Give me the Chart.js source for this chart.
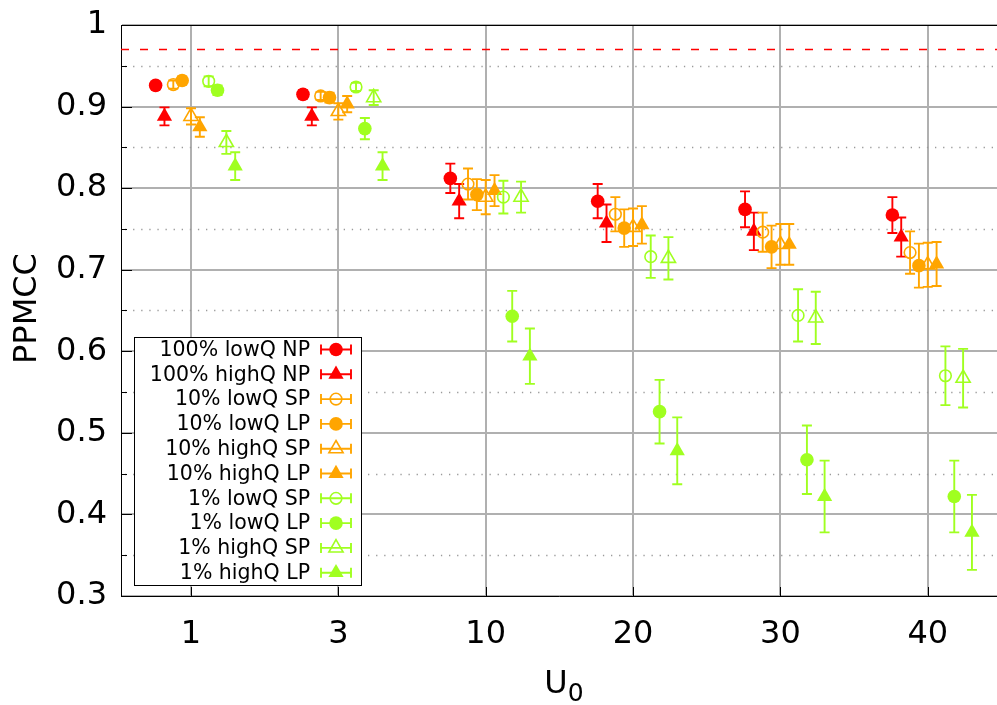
<!DOCTYPE html>
<html>
<head>
<meta charset="utf-8">
<title>PPMCC vs U0</title>
<script src="https://cdn.jsdelivr.net/npm/chart.js@4.4.1/dist/chart.umd.min.js"></script>
<style>
  html, body { margin: 0; padding: 0; background: #fff; }
  #wrap { width: 997px; height: 705px; }
</style>
</head>
<body>
<div id="wrap"><canvas id="ppmccChart" width="997" height="705"></canvas></div>
<script>
// ========================================
// DATA
// ========================================
const U0_LABELS = ["1", "3", "10", "20", "30", "40"];
const Y_TICKS = [0.3, 0.4, 0.5, 0.6, 0.7, 0.8, 0.9, 1.0];
const Y_MINOR_TICKS = [0.35, 0.45, 0.55, 0.65, 0.75, 0.85, 0.95];
const REF_LEVEL = 0.97;

const SERIES_NAMES = [
  "100% lowQ NP", "100% highQ NP",
  "10% lowQ SP", "10% lowQ LP", "10% highQ SP", "10% highQ LP",
  "1% lowQ SP", "1% lowQ LP", "1% highQ SP", "1% highQ LP",
];

// mean PPMCC per U0, with the error bar half-height
const np100Low      = [0.926, 0.915, 0.812, 0.784, 0.774, 0.767];
const np100LowErr   = [0.004, 0.005, 0.018, 0.021, 0.022, 0.022];
const np100High     = [0.888, 0.888, 0.784, 0.757, 0.747, 0.740];
const np100HighErr  = [0.011, 0.011, 0.021, 0.023, 0.023, 0.024];
const sp10Low       = [0.927, 0.913, 0.805, 0.768, 0.746, 0.721];
const sp10LowErr    = [0.005, 0.005, 0.019, 0.021, 0.024, 0.026];
const lp10Low       = [0.932, 0.911, 0.792, 0.751, 0.728, 0.705];
const lp10LowErr    = [0.005, 0.006, 0.019, 0.023, 0.026, 0.027];
const sp10High      = [0.888, 0.894, 0.789, 0.752, 0.731, 0.706];
const sp10HighErr   = [0.010, 0.010, 0.021, 0.023, 0.025, 0.027];
const lp10High      = [0.875, 0.903, 0.797, 0.755, 0.731, 0.707];
const lp10HighErr   = [0.012, 0.010, 0.019, 0.023, 0.025, 0.027];
const sp1Low        = [0.931, 0.924, 0.789, 0.716, 0.644, 0.570];
const sp1LowErr     = [0.006, 0.005, 0.020, 0.026, 0.032, 0.036];
const lp1Low        = [0.920, 0.873, 0.643, 0.526, 0.467, 0.422];
const lp1LowErr     = [0.006, 0.013, 0.031, 0.039, 0.042, 0.044];
const sp1High       = [0.856, 0.911, 0.789, 0.714, 0.641, 0.567];
const sp1HighErr    = [0.014, 0.009, 0.019, 0.026, 0.032, 0.036];
const lp1High       = [0.827, 0.827, 0.594, 0.478, 0.422, 0.378];
const lp1HighErr    = [0.017, 0.017, 0.034, 0.041, 0.044, 0.046];

const SERIES_VALUES = [np100Low, np100High, sp10Low, lp10Low, sp10High, lp10High, sp1Low, lp1Low, sp1High, lp1High];
const SERIES_ERRORS = [np100LowErr, np100HighErr, sp10LowErr, lp10LowErr, sp10HighErr, lp10HighErr, sp1LowErr, lp1LowErr, sp1HighErr, lp1HighErr];

// ========================================
// STYLE
// ========================================
const RED = "#ff0000";
const ORANGE = "#ffa500";
const GREEN = "#a0ff20";
const SERIES_STYLE = [
  { color: RED,    shape: "circle",   filled: true },
  { color: RED,    shape: "triangle", filled: true },
  { color: ORANGE, shape: "circle",   filled: false },
  { color: ORANGE, shape: "circle",   filled: true },
  { color: ORANGE, shape: "triangle", filled: false },
  { color: ORANGE, shape: "triangle", filled: true },
  { color: GREEN,  shape: "circle",   filled: false },
  { color: GREEN,  shape: "circle",   filled: true },
  { color: GREEN,  shape: "triangle", filled: false },
  { color: GREEN,  shape: "triangle", filled: true },
];

const FONT = "'DejaVu Sans', 'Liberation Sans', sans-serif";
const GROUP_START = -0.24;   // horizontal shift of the first series inside a group
const GROUP_STEP = 0.06;     // spacing between series inside a group
const X_MIN = -0.475;
const X_MAX = 5.47;

function markerRadius(st) {
  if (st.shape === "circle") return st.filled ? 6.8 : 5.8;
  return st.filled ? 8.8 : 8.2;
}

function drawMarker(ctx, st, x, y) {
  ctx.save();
  ctx.fillStyle = st.filled ? st.color : "rgba(0,0,0,0)";
  ctx.strokeStyle = st.color;
  ctx.lineWidth = 1.6;
  Chart.helpers.drawPoint(ctx, {
    pointStyle: st.shape,
    radius: markerRadius(st),
    rotation: 0,
    borderWidth: st.filled ? 0 : 1.6,
  }, x, y);
  ctx.restore();
}

// keep the plot frame fixed: no extra room for overhanging tick labels
function noLabelPadding(s) {
  s.paddingTop = 0;
  s.paddingBottom = 0;
  s.paddingLeft = 0;
  s.paddingRight = 0;
}

// ========================================
// PLUGINS
// ========================================
// vertical error bars, drawn with each dataset so layering follows the series order
const errorBars = {
  id: "errorBars",
  beforeDatasetDraw(chart, args) {
    const ds = chart.data.datasets[args.index];
    const yScale = chart.scales.y;
    const ctx = chart.ctx;
    const cap = 5;
    ctx.save();
    ctx.strokeStyle = ds.pointBorderColor;
    ctx.lineWidth = 1.9;
    args.meta.data.forEach((pt, i) => {
      const v = ds.data[i].y;
      const e = ds.errors[i];
      const top = yScale.getPixelForValue(v + e);
      const bot = yScale.getPixelForValue(v - e);
      ctx.beginPath();
      ctx.moveTo(pt.x, top); ctx.lineTo(pt.x, bot);
      ctx.moveTo(pt.x - cap, top); ctx.lineTo(pt.x + cap, top);
      ctx.moveTo(pt.x - cap, bot); ctx.lineTo(pt.x + cap, bot);
      ctx.stroke();
    });
    ctx.restore();
  },
};

// minor dotted grid, reference line, inward ticks and the frame top
const frame = {
  id: "frame",
  beforeDatasetsDraw(chart) {
    const { ctx, chartArea: a, scales } = chart;
    ctx.save();
    ctx.strokeStyle = "#9a9a9a";
    ctx.lineWidth = 1.3;
    ctx.setLineDash([1.3, 6.8]);
    Y_MINOR_TICKS.forEach((v) => {
      const py = Math.round(scales.y.getPixelForValue(v)) + 0.5;
      ctx.beginPath(); ctx.moveTo(a.left + 4, py); ctx.lineTo(a.right, py); ctx.stroke();
    });
    ctx.strokeStyle = RED;
    ctx.lineWidth = 1.5;
    ctx.setLineDash([8, 11]);
    const ry = Math.round(scales.y.getPixelForValue(REF_LEVEL)) + 0.5;
    ctx.beginPath(); ctx.moveTo(a.left, ry); ctx.lineTo(a.right, ry); ctx.stroke();
    ctx.restore();
  },
  afterDatasetsDraw(chart) {
    const { ctx, chartArea: a, scales } = chart;
    ctx.save();
    ctx.strokeStyle = "#000";
    ctx.lineWidth = 1;
    ctx.beginPath();
    Y_TICKS.forEach((v) => {
      const py = Math.round(scales.y.getPixelForValue(v)) + 0.5;
      ctx.moveTo(a.left, py); ctx.lineTo(a.left + 11, py);
    });
    Y_MINOR_TICKS.forEach((v) => {
      const py = Math.round(scales.y.getPixelForValue(v)) + 0.5;
      ctx.moveTo(a.left, py); ctx.lineTo(a.left + 6, py);
    });
    U0_LABELS.forEach((_, i) => {
      const px = Math.round(scales.x.getPixelForValue(i)) + 0.5;
      ctx.moveTo(px, a.bottom); ctx.lineTo(px, a.bottom - 9);
    });
    ctx.moveTo(a.left, a.top + 0.5); ctx.lineTo(a.right, a.top + 0.5);
    ctx.stroke();

    // axis titles
    ctx.fillStyle = "#000";
    ctx.textBaseline = "middle";
    ctx.textAlign = "center";
    ctx.font = "32px " + FONT;
    ctx.save();
    ctx.translate(28, (a.top + a.bottom) / 2 - 2);
    ctx.rotate(-Math.PI / 2);
    ctx.fillText("PPMCC", 0, 0);
    ctx.restore();

    ctx.textAlign = "left";
    ctx.textBaseline = "alphabetic";
    const uW = ctx.measureText("U").width;
    ctx.font = "25px " + FONT;
    const subW = ctx.measureText("0").width;
    const startX = (a.left + a.right) / 2 + 5 - (uW + subW) / 2;
    ctx.font = "32px " + FONT;
    ctx.fillText("U", startX, 693);
    ctx.font = "25px " + FONT;
    ctx.fillText("0", startX + uW, 701);
    ctx.restore();
  },
  afterDraw(chart) {
    const { ctx, chartArea: a } = chart;
    const box = { left: a.left + 13, top: a.top + 312, width: 227, height: 248 };
    const rowH = 24.8;
    ctx.save();
    ctx.fillStyle = "#fff";
    ctx.fillRect(box.left, box.top, box.width, box.height);
    ctx.strokeStyle = "#000";
    ctx.lineWidth = 1;
    ctx.strokeRect(box.left + 0.5, box.top + 0.5, box.width, box.height);
    ctx.font = "20.5px " + FONT;
    ctx.textAlign = "right";
    ctx.textBaseline = "middle";
    chart.data.datasets.forEach((ds, k) => {
      const st = SERIES_STYLE[k];
      const cy = box.top + 12.5 + k * rowH;
      ctx.fillStyle = "#000";
      ctx.fillText(ds.label, box.left + 176, cy + 1);
      const cx = box.left + 202;
      ctx.strokeStyle = st.color;
      ctx.lineWidth = 1.9;
      ctx.beginPath();
      ctx.moveTo(cx - 15, cy); ctx.lineTo(cx + 15, cy);
      ctx.moveTo(cx - 15, cy - 5); ctx.lineTo(cx - 15, cy + 5);
      ctx.moveTo(cx + 15, cy - 5); ctx.lineTo(cx + 15, cy + 5);
      ctx.stroke();
      drawMarker(ctx, st, cx, cy);
    });
    ctx.restore();
  },
};

// ========================================
// CHART
// ========================================
const datasets = SERIES_NAMES.map((name, k) => {
  const st = SERIES_STYLE[k];
  return {
    label: name,
    data: SERIES_VALUES[k].map((v, g) => ({ x: g + GROUP_START + k * GROUP_STEP, y: v })),
    errors: SERIES_ERRORS[k],
    showLine: false,
    pointStyle: st.shape,
    pointRadius: markerRadius(st),
    pointBackgroundColor: st.filled ? st.color : "rgba(0,0,0,0)",
    pointBorderColor: st.color,
    pointBorderWidth: st.filled ? 0 : 1.6,
    order: SERIES_NAMES.length - k,
  };
});

new Chart(document.getElementById("ppmccChart"), {
  type: "scatter",
  data: { datasets },
  plugins: [errorBars, frame],
  options: {
    responsive: false,
    animation: false,
    devicePixelRatio: 1,
    layout: { autoPadding: false, padding: { top: 25, right: 0, left: 0, bottom: 0 } },
    plugins: { legend: { display: false }, tooltip: { enabled: false } },
    scales: {
      x: {
        type: "linear",
        min: X_MIN,
        max: X_MAX,
        afterBuildTicks: (s) => { s.ticks = U0_LABELS.map((_, i) => ({ value: i })); },
        afterFit: (s) => { s.height = 109; noLabelPadding(s); },
        grid: { color: "#b0b0b0", lineWidth: 2, drawTicks: false },
        border: { color: "#000", width: 1 },
        ticks: {
          padding: 19,
          color: "#000",
          autoSkip: false,
          maxRotation: 0,
          font: { family: FONT, size: 32 },
          callback: (v) => U0_LABELS[Math.round(v)],
        },
      },
      y: {
        min: 0.3,
        max: 1,
        afterBuildTicks: (s) => { s.ticks = Y_TICKS.map((v) => ({ value: v })); },
        afterFit: (s) => { s.width = 121; noLabelPadding(s); },
        grid: { color: "#b0b0b0", lineWidth: 2, drawTicks: false },
        border: { color: "#000", width: 1 },
        ticks: {
          padding: 14,
          color: "#000",
          font: { family: FONT, size: 32 },
          callback: (v) => String(+v.toFixed(1)),
        },
      },
    },
  },
});
</script>
</body>
</html>
